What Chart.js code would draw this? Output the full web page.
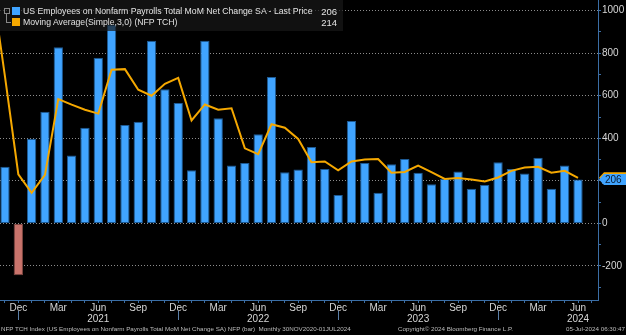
<!DOCTYPE html>
<html>
<head>
<meta charset="utf-8">
<script src="https://cdn.jsdelivr.net/npm/chart.js@4"></script>
<style>
  html, body { margin: 0; padding: 0; background: #000; }
  body { width: 626px; height: 335px; position: relative; overflow: hidden; font-family: Arial, "Liberation Sans", sans-serif; }
  #wrap { position: absolute; left: -15px; top: 0; width: 641px; height: 335px; }
  #legend { position: absolute; left: 0; top: 0; width: 343px; height: 31px; background: rgba(24,24,24,0.7); color: #e2e2e2; font-size: 8.7px; }
  .row { position: absolute; left: 0; width: 343px; height: 11px; line-height: 11px; }
  .row .sw { position: absolute; left: 12px; top: 1px; width: 8px; height: 8px; }
  .row .txt { position: absolute; left: 23px; white-space: nowrap; }
  .row .val { position: absolute; right: 6px; font-size: 9.5px; }
  .tree-box { position: absolute; left: 4px; top: 8px; width: 4px; height: 4px; border: 1px solid #888; }
  .tree-line { position: absolute; left: 6px; top: 14px; width: 4px; height: 8px; border-left: 1px solid #888; border-bottom: 1px solid #888; }
  #footer { position: absolute; left: 0; top: 324px; width: 626px; height: 10px; color: #bdbdbd; font-size: 6.25px; line-height: 10px; white-space: nowrap; }
  #footer span { position: absolute; top: 0; }
</style>
</head>
<body>
<div id="wrap"><canvas id="nfpChart" width="641" height="335"></canvas></div>
<div id="legend">
  <div class="tree-box"></div><div class="tree-line"></div>
  <div class="row" style="top:6px"><div class="sw" style="background:#40a4ff"></div><span class="txt">US Employees on Nonfarm Payrolls Total MoM Net Change SA - Last Price</span><span class="val">206</span></div>
  <div class="row" style="top:17px"><div class="sw" style="background:#f5a800"></div><span class="txt">Moving Average(Simple,3,0) (NFP TCH)</span><span class="val">214</span></div>
</div>
<div id="footer">
  <span style="left:1px">NFP TCH Index (US Employees on Nonfarm Payrolls Total MoM Net Change SA) NFP (bar)&nbsp; Monthly 30NOV2020-01JUL2024</span>
  <span style="left:398px">Copyright© 2024 Bloomberg Finance L.P.</span>
  <span style="right:1px">05-Jul-2024 06:30:47</span>
</div>
<script>
// monthly periods, Oct 2020 .. Jul 2024
const periods = [
  'Oct 2020', 'Nov 2020', 'Dec 2020',
  'Jan 2021', 'Feb 2021', 'Mar 2021', 'Apr 2021', 'May 2021', 'Jun 2021', 'Jul 2021', 'Aug 2021', 'Sep 2021', 'Oct 2021', 'Nov 2021', 'Dec 2021',
  'Jan 2022', 'Feb 2022', 'Mar 2022', 'Apr 2022', 'May 2022', 'Jun 2022', 'Jul 2022', 'Aug 2022', 'Sep 2022', 'Oct 2022', 'Nov 2022', 'Dec 2022',
  'Jan 2023', 'Feb 2023', 'Mar 2023', 'Apr 2023', 'May 2023', 'Jun 2023', 'Jul 2023', 'Aug 2023', 'Sep 2023', 'Oct 2023', 'Nov 2023', 'Dec 2023',
  'Jan 2024', 'Feb 2024', 'Mar 2024', 'Apr 2024', 'May 2024', 'Jun 2024', 'Jul 2024'
];

// MoM change in nonfarm payrolls (thousands)
const payrolls = [
  null, 266, -244,
  398, 525, 828, 319, 450, 778, 933, 462, 478, 859, 631, 566,
  250, 859, 494, 272, 284, 419, 688, 241, 253, 359, 256, 134,
  481, 284, 144, 278, 303, 238, 184, 209, 244, 163, 181, 288,
  256, 234, 309, 163, 272, 206, null
];

// 3-month simple moving average
const movingAvg = [
  1130, 690, 231,
  144, 228, 584, 558, 534, 516, 722, 725, 628, 600, 656, 684,
  484, 559, 534, 541, 353, 325, 466, 450, 397, 288, 291, 250,
  291, 300, 303, 238, 242, 272, 241, 209, 213, 206, 197, 216,
  247, 263, 266, 238, 247, 214, null
];

// right axis: minor ticks every 100, labels every 200
const yTicks = [-300, -200, -100, 0, 100, 200, 300, 400, 500, 600, 700, 800, 900, 1000];
const labelMonths = ['Dec', 'Mar', 'Jun', 'Sep'];
const lastPrice = 206;
const lastAvg = 214;

const axisBlue = '#3b6ea5';
const barBlue = '#40a4ff';
const avgOrange = '#f5a800';

// price tags on the right axis plus year separators under December
const overlays = {
  id: 'overlays',
  afterDraw(chart) {
    const ctx = chart.ctx;
    const x = chart.scales.x;
    const y = chart.scales.y;
    const area = chart.chartArea;

    ctx.save();
    ctx.strokeStyle = '#5a7fa8';
    ctx.lineWidth = 1;
    periods.forEach((p, i) => {
      if (p.startsWith('Dec')) {
        const px = Math.round(x.getPixelForValue(i)) + 0.5;
        ctx.beginPath();
        ctx.moveTo(px, x.top + 11);
        ctx.lineTo(px, x.top + 20);
        ctx.stroke();
      }
    });

    const tag = (val, fill, text) => {
      const cy = y.getPixelForValue(val);
      const left = area.right + 1;
      const h = 11;
      ctx.fillStyle = fill;
      ctx.beginPath();
      ctx.moveTo(left, cy);
      ctx.lineTo(left + 5, cy - h / 2);
      ctx.lineTo(chart.width, cy - h / 2);
      ctx.lineTo(chart.width, cy + h / 2);
      ctx.lineTo(left + 5, cy + h / 2);
      ctx.closePath();
      ctx.fill();
      if (text) {
        ctx.fillStyle = '#06182e';
        ctx.font = '10px Arial, "Liberation Sans", sans-serif';
        ctx.textBaseline = 'middle';
        ctx.fillText(text, left + 6, cy + 0.5);
      }
    };
    // the average tag sits mostly behind the last-price tag
    tag(lastAvg, avgOrange, '');
    tag(lastPrice, barBlue, String(lastPrice));
    ctx.restore();
  }
};

const ctx = document.getElementById('nfpChart').getContext('2d');
const nfpChart = new Chart(ctx, {
  type: 'bar',
  data: {
    labels: periods,
    datasets: [
      {
        type: 'line',
        label: 'Moving Average(Simple,3,0) (NFP TCH)',
        data: movingAvg,
        borderColor: avgOrange,
        borderWidth: 2,
        pointRadius: 0,
        tension: 0,
        order: 0
      },
      {
        type: 'bar',
        label: 'US Employees on Nonfarm Payrolls Total MoM Net Change SA',
        data: payrolls,
        backgroundColor: c => (c.raw < 0 ? '#c9736b' : barBlue),
        borderColor: c => (c.raw < 0 ? '#7c4640' : '#1d5a94'),
        borderWidth: 1,
        borderSkipped: false,
        barPercentage: 0.7,
        categoryPercentage: 1,
        order: 1
      }
    ]
  },
  options: {
    responsive: false,
    animation: false,
    layout: { padding: 0 },
    plugins: {
      legend: { display: false },
      tooltip: { enabled: false }
    },
    scales: {
      x: {
        offset: true,
        grid: {
          offset: false,
          drawOnChartArea: false,
          tickLength: 3,
          tickColor: axisBlue
        },
        border: { color: axisBlue, width: 1 },
        ticks: {
          autoSkip: false,
          maxRotation: 0,
          padding: 0,
          color: '#d6d6d6',
          font: { family: 'Arial, "Liberation Sans", sans-serif', size: 10, lineHeight: 1.1 },
          callback: (v, i) => {
            const [m, yr] = periods[i].split(' ');
            if (m === 'Jun') return [m, yr];
            return labelMonths.includes(m) ? m : '';
          }
        },
        afterFit: s => { s.height = 35; }
      },
      y: {
        position: 'right',
        min: -360,
        max: 1050,
        afterBuildTicks: s => { s.ticks = yTicks.map(v => ({ value: v })); },
        grid: {
          color: c => (c.tick && c.tick.value % 200 === 0 ? '#8d8d8d' : 'transparent'),
          tickColor: axisBlue,
          tickLength: 3,
          lineWidth: 1
        },
        border: { color: axisBlue, width: 1, dash: [1, 2] },
        ticks: {
          autoSkip: false,
          padding: 1,
          color: '#d6d6d6',
          font: { family: 'Arial, "Liberation Sans", sans-serif', size: 10 },
          callback: v => (v % 200 === 0 ? v : '')
        },
        afterFit: s => {
          s.width = 28;
          s.paddingTop = 0;
          s.paddingBottom = 0;
        }
      }
    }
  },
  plugins: [overlays]
});
</script>
</body>
</html>
